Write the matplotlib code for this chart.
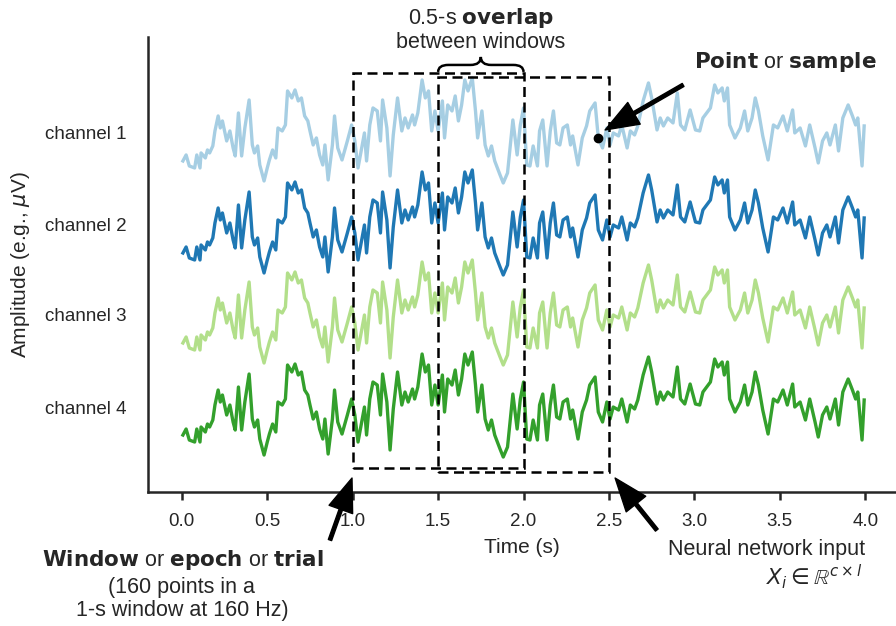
"""EEG windowing sketch: four channels, two overlapping 1-s windows."""

import numpy as np
import matplotlib
matplotlib.use("Agg")
import matplotlib.pyplot as plt
from matplotlib.patches import Rectangle, PathPatch
from matplotlib.path import Path

SFREQ = 160  # Hz

# waveform: (sample index at 160 Hz, amplitude)
samples = [1, 4, 7, 12, 14, 17, 18, 22, 24, 26, 29, 31, 34, 36, 38, 42, 45, 48,
           50, 53, 56, 59, 63, 66, 68, 71, 73, 77, 80, 82, 85, 88, 90, 94, 97,
           99, 103, 106, 109, 112, 115, 118, 120, 123, 126, 129, 132, 134, 137,
           141, 143, 146, 150, 155, 159, 162, 165, 169, 171, 173, 176, 179,
           183, 186, 188, 192, 195, 198, 202, 206, 209, 212, 216, 218, 221,
           225, 228, 231, 234, 237, 240, 244, 246, 249, 253, 256, 259, 262,
           265, 268, 272, 275, 277, 281, 284, 287, 290, 293, 298, 301, 305,
           310, 314, 317, 320, 323, 326, 329, 333, 335, 338, 342, 345, 348,
           351, 354, 357, 361, 364, 366, 371, 375, 379, 382, 387, 390, 394,
           398, 401, 404, 409, 412, 417, 420, 424, 427, 432, 437, 440, 445,
           448, 451, 455, 460, 464, 467, 471, 476, 481, 485, 488, 495, 499,
           502, 506, 508, 511, 513, 518, 523, 527, 530, 534, 537, 540, 544,
           549, 554, 558, 563, 567, 572, 574, 579, 584, 588, 593, 596, 600,
           604, 607, 612, 615, 619, 624, 628, 631, 633, 637, 639]
amplitude = [-28, -22, -33, -35, -22, -35, -20, -25, -17, -20, -13, 2, 17, 5,
             12, -8, 2, -15, -23, 20, -23, 5, 33, -12, -20, -13, -32, -48,
             -35, -27, -17, -25, 5, 2, 8, 42, 35, 43, 32, 35, 17, 12, 2, -12,
             -5, -22, -32, -12, -47, -12, 17, -15, -27, -8, 8, -8, -35, -12,
             0, -28, 8, 25, 22, -8, 33, 5, -43, -2, 35, 2, 15, 5, 18, 8, 20,
             53, 35, 42, 2, 22, 2, 32, -5, 28, 22, 37, 12, 28, 53, 42, 55,
             22, -5, 22, -12, -23, -13, -28, -42, -50, -40, 13, -22, 8, 25,
             -32, -33, -13, -33, 2, 13, -33, 2, 22, -10, -12, 5, 8, -12, -3,
             -32, -5, 7, 22, 30, -5, -15, 5, -12, 0, -3, 8, -15, 2, -2, 7,
             32, 50, 35, 3, 15, 7, 15, 10, 40, 8, 3, 23, 3, 2, 15, 25, 48,
             40, 45, 32, 45, 8, -5, 5, 22, 2, 15, 35, 22, -3, -27, 8, 5, 17,
             2, 23, 0, 5, -13, 8, -15, -30, -8, 0, -12, 8, -18, 15, 28, 17,
             8, 15, -33, 7]

channels = ["channel 1", "channel 2", "channel 3", "channel 4"]
offsets = [274, 182, 92, 0]
colors = ["#a6cee3", "#1f78b4", "#b2df8a", "#33a02c"]

xticks = [0.0, 0.5, 1.0, 1.5, 2.0, 2.5, 3.0, 3.5, 4.0]
windows = [(1.0, 2.0), (1.5, 2.5)]
point_sample = 390

TXT = "#262626"
FS = 15.5  # annotation text size
plt.rcParams["font.family"] = ["Liberation Sans", "DejaVu Sans"]
plt.rcParams["mathtext.fontset"] = "dejavusans"
plt.rcParams["text.color"] = TXT

t = np.array(samples) / SFREQ
amp = np.array(amplitude, dtype=float)

fig = plt.figure(figsize=(8.96, 6.26), dpi=100)
ax = fig.add_axes([0.165, 0.214, 0.835, 0.727])

for name, off, col in zip(channels, offsets, colors):
    ax.plot(t, amp + off, color=col, lw=2.4, solid_joinstyle="round")

# the two overlapping windows
for (t0, t1), (lo, hi) in zip(windows, [(-61, 334), (-65, 330)]):
    ax.add_patch(Rectangle((t0, lo), t1 - t0, hi - lo, fill=False, ec="black",
                           lw=1.8, ls=(0, (4, 2.2)), zorder=5))

ax.set_xlim(-0.199, 4.18)
ax.set_ylim(-85, 370)
ax.set_xticks(xticks)
ax.set_xticklabels([f"{x:.1f}" for x in xticks], fontsize=13.5, color=TXT)
ax.set_yticks(offsets)
ax.set_yticklabels(channels, fontsize=13.5, color=TXT)
ax.tick_params(axis="y", length=0, pad=15.5)
ax.tick_params(axis="x", length=6, width=1.8, color=TXT, pad=9)
ax.set_xlabel("Time (s)", fontsize=15, labelpad=6, color=TXT)
ax.set_ylabel(r"Amplitude (e.g., $\mu$V)", fontsize=15, color=TXT)
ax.yaxis.set_label_coords(-0.155, 0.5)
for s in ["top", "right"]:
    ax.spines[s].set_visible(False)
for s in ["left", "bottom"]:
    ax.spines[s].set_linewidth(1.8)
    ax.spines[s].set_color(TXT)

# curly brace over the overlap
x0, x1 = windows[1][0], windows[0][1]
xm = 0.5 * (x0 + x1)
r = 0.06
y0, ym, yt = 335, 342, 350
verts = [(x0, y0), (x0, ym), (x0 + r, ym), (xm - r, ym), (xm, ym), (xm, yt),
         (xm, ym), (xm + r, ym), (x1 - r, ym), (x1, ym), (x1, y0)]
codes = [Path.MOVETO, Path.CURVE3, Path.CURVE3, Path.LINETO, Path.CURVE3,
         Path.CURVE3, Path.CURVE3, Path.CURVE3, Path.LINETO, Path.CURVE3,
         Path.CURVE3]
ax.add_patch(PathPatch(Path(verts, codes), fill=False, lw=1.8, ec="black",
                       clip_on=False, zorder=6))
ax.text(xm, 389, r"0.5-s $\mathbf{overlap}$", ha="center", va="center",
        fontsize=FS)
ax.text(xm, 364, "between windows", ha="center", va="center", fontsize=FS)

arrow = dict(facecolor="black", edgecolor="black", width=2.5, headwidth=18,
             headlength=24, shrink=0)

# point / sample
pt = samples.index(point_sample)
ax.plot(t[pt], amp[pt] + offsets[0], "o", color="black", ms=6, zorder=7)
ax.annotate("", xy=(t[pt] + 0.04, amp[pt] + offsets[0] + 8),
            xytext=(2.934, 322), arrowprops=arrow, annotation_clip=False)
ax.text(3.53, 345, r"$\mathbf{Point}$ or $\mathbf{sample}$", ha="center",
        va="center", fontsize=FS)

# window / epoch / trial
ax.annotate("", xy=(0.996, -71), xytext=(0.867, -133), arrowprops=arrow,
            annotation_clip=False)
ax.text(0.005, -153, r"$\mathbf{Window}$ or $\mathbf{epoch}$ or $\mathbf{trial}$",
        ha="center", va="center", fontsize=FS)
ax.text(0.0, -180, "(160 points in a", ha="center", va="center", fontsize=FS)
ax.text(0.005, -203, "1-s window at 160 Hz)", ha="center", va="center",
        fontsize=FS)

# network input
ax.annotate("", xy=(2.536, -71), xytext=(2.78, -123), arrowprops=arrow,
            annotation_clip=False)
ax.text(3.42, -142, "Neural network input", ha="center", va="center",
        fontsize=FS)
ax.text(3.70, -170, r"$X_i \in \mathbb{R}^{c \times l}$", ha="center",
        va="center", fontsize=FS)

fig.savefig("out.png", dpi=100)
